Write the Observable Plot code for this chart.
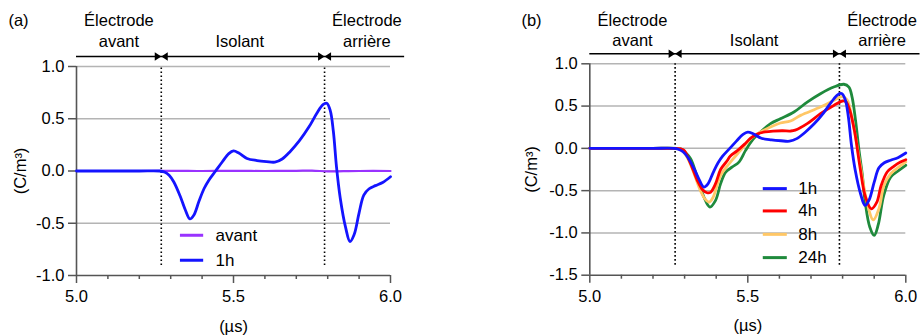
<!DOCTYPE html>
<html>
<head>
<meta charset="utf-8">
<script src="https://cdn.jsdelivr.net/npm/d3@7"></script>
<script src="https://cdn.jsdelivr.net/npm/@observablehq/plot@0.6"></script>
<style>
  html, body { margin: 0; padding: 0; background: #fff; }
  #wrap { display: flex; width: 920px; height: 336px; }
  #wrap > div { width: 460px; height: 336px; }
</style>
</head>
<body>
<div id="wrap"><div id="pa"></div><div id="pb"></div></div>
<script>
// ---------- data ----------
const boundaries = [5.27, 5.79];             // dotted lines (µs)
const sectionX = [5.135, 5.52, 5.925];
const sectionLine1 = ["Électrode", "", "Électrode"];
const sectionLine2 = ["avant", "Isolant", "arrière"];

const xMajorTicks = [5.0, 5.5, 6.0];
const xMinorTicks = [5.1, 5.2, 5.3, 5.4, 5.6, 5.7, 5.8, 5.9];
const yTicksA = [-1.0, -0.5, 0.0, 0.5, 1.0];
const yTicksB = [-1.5, -1.0, -0.5, 0.0, 0.5, 1.0];

// panel (a) "avant"
const tAvant = [5.0, 5.1, 5.2, 5.3, 5.4, 5.5, 5.6, 5.7, 5.75, 5.8, 5.85, 5.9, 6.0];
const vAvant = [0.0, 0.0, 0.0, 0.002, 0.0, 0.001, 0.0, 0.002, 0.004, -0.004, -0.002, 0.0, 0.0];

// 1h (both panels)
const t1h = [5.0, 5.1, 5.2, 5.265, 5.28, 5.295, 5.31, 5.33, 5.347, 5.361, 5.374, 5.39, 5.406, 5.421, 5.443, 5.464, 5.485, 5.5, 5.517, 5.543, 5.575, 5.605, 5.632, 5.655, 5.68, 5.71, 5.74, 5.765, 5.785, 5.797, 5.808, 5.818, 5.828, 5.84, 5.857, 5.871, 5.884, 5.9, 5.915, 5.932, 5.952, 5.975, 6.0];
const v1h = [0, 0, 0, 0, -0.01, -0.04, -0.105, -0.24, -0.376, -0.458, -0.42, -0.29, -0.17, -0.09, 0.0, 0.086, 0.166, 0.192, 0.172, 0.12, 0.1, 0.09, 0.085, 0.115, 0.185, 0.29, 0.42, 0.55, 0.635, 0.648, 0.58, 0.38, 0.04, -0.26, -0.54, -0.675, -0.61, -0.4, -0.23, -0.17, -0.14, -0.11, -0.055];

// 4h
const t4h = [5.0, 5.1, 5.2, 5.27, 5.285, 5.298, 5.319, 5.34, 5.357, 5.371, 5.382, 5.398, 5.414, 5.434, 5.445, 5.466, 5.49, 5.509, 5.53, 5.555, 5.58, 5.61, 5.635, 5.65, 5.688, 5.73, 5.772, 5.8, 5.811, 5.822, 5.838, 5.855, 5.872, 5.891, 5.908, 5.922, 5.941, 5.962, 5.983, 6.0];
const v4h = [0, 0, 0, 0, -0.005, -0.024, -0.18, -0.378, -0.49, -0.525, -0.52, -0.418, -0.25, -0.15, -0.09, -0.03, 0.05, 0.12, 0.17, 0.195, 0.205, 0.208, 0.205, 0.215, 0.292, 0.41, 0.508, 0.56, 0.55, 0.46, 0.2, -0.22, -0.57, -0.715, -0.64, -0.44, -0.28, -0.213, -0.162, -0.134];

// 8h
const t8h = [5.0, 5.1, 5.2, 5.27, 5.29, 5.31, 5.33, 5.35, 5.365, 5.378, 5.39, 5.414, 5.445, 5.477, 5.509, 5.54, 5.572, 5.603, 5.635, 5.667, 5.73, 5.772, 5.799, 5.815, 5.827, 5.841, 5.857, 5.875, 5.897, 5.915, 5.931, 5.952, 5.978, 6.0];
const v8h = [0, 0, 0, 0, -0.015, -0.12, -0.3, -0.5, -0.6, -0.635, -0.58, -0.32, -0.162, -0.024, 0.114, 0.193, 0.252, 0.3, 0.323, 0.39, 0.488, 0.567, 0.612, 0.567, 0.41, 0.134, -0.22, -0.6, -0.845, -0.713, -0.437, -0.3, -0.22, -0.16];

// 24h
const t24h = [5.0, 5.1, 5.2, 5.275, 5.29, 5.3, 5.319, 5.34, 5.361, 5.38, 5.398, 5.414, 5.43, 5.451, 5.472, 5.493, 5.514, 5.54, 5.572, 5.603, 5.646, 5.688, 5.73, 5.772, 5.804, 5.82, 5.83, 5.841, 5.852, 5.862, 5.872, 5.886, 5.9, 5.913, 5.93, 5.952, 5.978, 6.0];
const v24h = [0, 0, 0, 0, -0.01, -0.04, -0.122, -0.34, -0.575, -0.694, -0.615, -0.417, -0.28, -0.22, -0.162, -0.024, 0.095, 0.193, 0.292, 0.35, 0.43, 0.547, 0.646, 0.725, 0.758, 0.725, 0.606, 0.33, -0.024, -0.3, -0.65, -0.93, -1.03, -0.9, -0.56, -0.34, -0.26, -0.2];

// legends
const legendA = ["avant", "1h"];
const legendAY = [-0.615, -0.854];
const legendB = ["1h", "4h", "8h", "24h"];
const legendBY = [-0.476, -0.74, -1.017, -1.292];

// ---------- helpers ----------
const C = { avant: "#9933ff", "1h": "#1414ff", "4h": "#ff0000", "8h": "#ffc766", "24h": "#1f8a3c" };
const rows = (ts, vs) => ts.map((t, i) => ({ t, v: vs[i] }));
const fmt = d => d.toFixed(1);
const triRight = { draw(ctx) { ctx.moveTo(-6.5, -4.2); ctx.lineTo(0, 0); ctx.lineTo(-6.5, 4.2); ctx.closePath(); } };
const triLeft  = { draw(ctx) { ctx.moveTo(6.5, -4.2); ctx.lineTo(0, 0); ctx.lineTo(6.5, 4.2); ctx.closePath(); } };
const style = { fontFamily: "'Liberation Sans', Arial, sans-serif", fontSize: "16.5px", color: "black", background: "white", overflow: "visible" };
const AX = "#555";

function frameMarks(yMin, yTicks, topDy1, topDy2, tag, tagDx, tagDy, ylabDx) {
  return [
    Plot.gridY(yTicks.filter(d => d > yMin), { stroke: "#b4b4b4", strokeOpacity: 1, strokeWidth: 1.5 }),
    Plot.ruleX(boundaries, { y1: yMin, y2: 1, insetTop: -10, stroke: "black", strokeWidth: 1.6, strokeDasharray: "1.6,2.4" }),
    // axes lines
    Plot.ruleX([5], { y1: yMin, y2: 1, stroke: AX, strokeWidth: 1.6 }),
    Plot.ruleY([yMin], { x1: 5, x2: 6, stroke: AX, strokeWidth: 1.6 }),
    Plot.axisY(yTicks, { label: null, tickSize: 8, tickPadding: 4, tickFormat: fmt, stroke: AX, strokeWidth: 1.5, fill: "black", fontSize: 16.5 }),
    Plot.axisX(xMajorTicks, { label: null, tickSize: 8, tickPadding: 7, tickFormat: fmt, stroke: AX, strokeWidth: 1.5, fill: "black", fontSize: 16.5 }),
    Plot.axisX(xMinorTicks, { label: null, tickSize: 4, tickFormat: () => "", stroke: AX, strokeWidth: 1.5 }),
    // top section annotation
    Plot.ruleY([1], { x1: 5, x2: 6.045, dy: -10, stroke: "black", strokeWidth: 1.5 }),
    Plot.dot(boundaries, { x: d => d, y: 1, dy: -10, symbol: triRight, fill: "black", stroke: "none" }),
    Plot.dot(boundaries, { x: d => d, y: 1, dy: -10, symbol: triLeft, fill: "black", stroke: "none" }),
    Plot.text(sectionX, { x: d => d, y: 1, text: (d, i) => sectionLine1[i], dy: topDy1, fill: "black", fontSize: 16.5 }),
    Plot.text(sectionX, { x: d => d, y: 1, text: (d, i) => sectionLine2[i], dy: topDy2, fill: "black", fontSize: 16.5 }),
    Plot.text([tag], { text: d => d, frameAnchor: "top-left", textAnchor: "middle", lineAnchor: "middle", dx: tagDx, dy: tagDy, fill: "black", fontSize: 16.5 }),
    Plot.text(["(C/m³)"], { text: d => d, frameAnchor: "left", rotate: -90, textAnchor: "middle", lineAnchor: "middle", dx: ylabDx, fill: "black", fontSize: 16.5 }),
    Plot.text(["(µs)"], { text: d => d, frameAnchor: "bottom", textAnchor: "middle", lineAnchor: "middle", dy: 51, fill: "black", fontSize: 16.5 })
  ];
}

function legendMarks(names, ys, x1, x2, xt) {
  const m = [];
  names.forEach((n, i) => {
    m.push(Plot.ruleY([ys[i]], { x1, x2, stroke: C[n], strokeWidth: 3 }));
    m.push(Plot.text([n], { x: xt, y: ys[i], text: d => d, textAnchor: "start", fill: "black", fontSize: 17 }));
  });
  return m;
}

const lineOpts = (color, w) => ({ x: "t", y: "v", stroke: color, strokeWidth: w, curve: "catmull-rom" });

// ---------- panel (a) ----------
const plotA = Plot.plot({
  width: 460, height: 336,
  marginLeft: 76, marginRight: 70, marginTop: 66, marginBottom: 61,
  x: { domain: [5, 6], axis: null },
  y: { domain: [-1, 1], axis: null },
  style,
  marks: [
    ...frameMarks(-1, yTicksA, -46, -25, "(a)", -58, -46, -56),
    Plot.line(rows(tAvant, vAvant), lineOpts(C.avant, 2.2)),
    Plot.line(rows(t1h, v1h), lineOpts(C["1h"], 2.8)),
    ...legendMarks(legendA, legendAY, 5.331, 5.405, 5.443)
  ]
});
document.getElementById("pa").append(plotA);

// ---------- panel (b) ----------
const plotB = Plot.plot({
  width: 460, height: 336,
  marginLeft: 129.3, marginRight: 14.7, marginTop: 63.3, marginBottom: 61.3,
  x: { domain: [5, 6], axis: null },
  y: { domain: [-1.5, 1], axis: null },
  style,
  marks: [
    ...frameMarks(-1.5, yTicksB, -43, -23, "(b)", -58.3, -43.3, -57.6),
    Plot.line(rows(t24h, v24h), lineOpts(C["24h"], 2.8)),
    Plot.line(rows(t8h, v8h), lineOpts(C["8h"], 2.8)),
    Plot.line(rows(t4h, v4h), lineOpts(C["4h"], 2.8)),
    Plot.line(rows(t1h, v1h), lineOpts(C["1h"], 2.8)),
    ...legendMarks(legendB, legendBY, 5.549, 5.625, 5.66)
  ]
});
document.getElementById("pb").append(plotB);
</script>
</body>
</html>
